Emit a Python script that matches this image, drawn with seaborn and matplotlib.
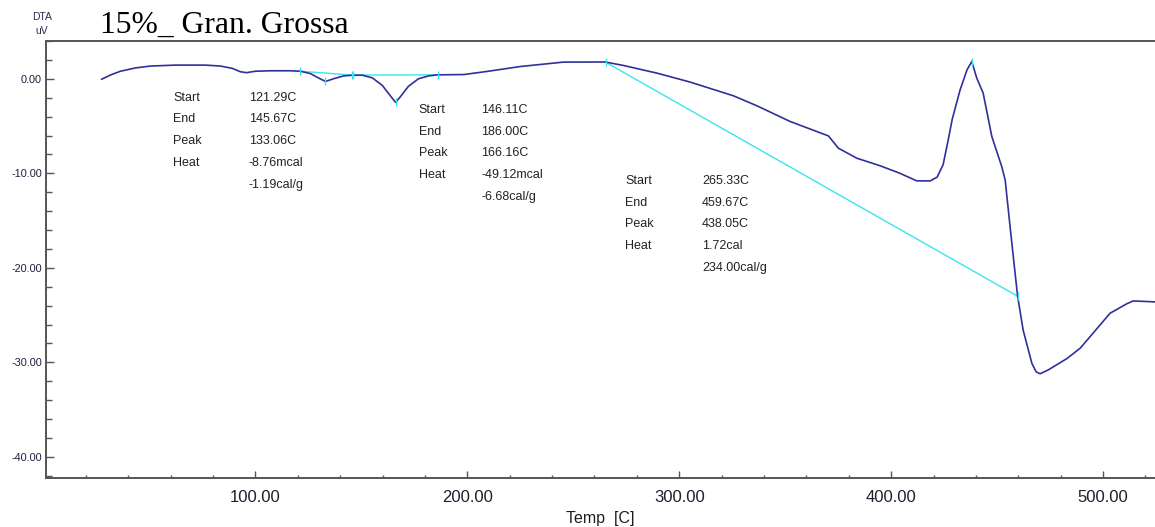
import numpy as np
import pandas as pd
import matplotlib
matplotlib.use("Agg")
import matplotlib.pyplot as plt
from matplotlib.ticker import MultipleLocator, FormatStrFormatter
import seaborn as sns

# DTA signal (uV) versus temperature (C)
temp = [27.4, 31.6, 36.3, 43.4, 50.5, 62.3, 76.4, 83.5, 89.2, 92.9, 95.8, 100.0,
        107.0, 116.5, 121.3, 126.0, 129.7, 133.06, 136.8, 141.5, 145.7, 150.5,
        155.2, 159.9, 163.7, 166.16, 168.4, 172.2, 176.9, 181.6, 185.8, 198.3,
        209.3, 225.0, 240.7, 245.4, 254.9, 265.1, 273.7, 289.5, 305.2,
        325.6, 336.7, 352.4, 370.4, 375.1, 383.8, 394.8, 404.2,
        412.1, 418.4, 421.7, 424.5, 426.9, 428.8, 432.5, 435.8, 438.05,
        440.4, 443.4, 447.5, 452.2, 453.8, 456.1, 458.5, 459.67, 462.3, 466.4,
        468.4, 470.3, 474.1, 482.9, 489.2, 495.3, 503.3, 511.2, 514.2, 524.5]
dta = [-0.05, 0.4, 0.8, 1.15, 1.35, 1.45, 1.45, 1.35, 1.1, 0.75, 0.65, 0.8,
       0.85, 0.85, 0.8, 0.55, 0.1, -0.28, 0.0, 0.3, 0.38, 0.38,
       0.1, -0.7, -1.8, -2.5, -1.9, -0.8, 0.0, 0.3, 0.42, 0.45,
       0.78, 1.3, 1.66, 1.77, 1.77, 1.78, 1.41, 0.6, -0.35,
       -1.8, -2.86, -4.52, -6.04, -7.34, -8.4, -9.2, -10.0,
       -10.8, -10.8, -10.4, -9.1, -6.5, -4.3, -1.2, 0.95, 1.83,
       0.07, -1.5, -6.1, -9.3, -10.7, -15.6, -20.6, -23.0, -26.6, -30.1,
       -31.0, -31.2, -30.8, -29.6, -28.5, -26.9, -24.8, -23.8, -23.5, -23.6]

# Peak analysis: baseline start/end (C, uV) and peak position
peak_start_t = [121.29, 146.11, 265.33]
peak_start_v = [0.8, 0.4, 1.75]
peak_end_t = [145.67, 186.00, 459.67]
peak_end_v = [0.4, 0.42, -23.0]
peak_top_t = [133.06, 166.16, 438.05]
peak_top_v = [-0.28, -2.5, 1.83]

peak_labels = ["Start", "End", "Peak", "Heat"]
peak_values = [
    ["121.29C", "145.67C", "133.06C", "-8.76mcal", "-1.19cal/g"],
    ["146.11C", "186.00C", "166.16C", "-49.12mcal", "-6.68cal/g"],
    ["265.33C", "459.67C", "438.05C", "1.72cal", "234.00cal/g"],
]
# Text anchor for each results block: label column x, value column x, first row y
block_anchor = [(61.3, 96.8, -2.0), (177.0, 206.7, -3.3), (274.5, 310.7, -10.8)]

x_ticks = [100, 200, 300, 400, 500]
y_ticks = [0, -10, -20, -30, -40]

sns.set_style("white")
plt.rcParams["font.family"] = ["Liberation Sans", "DejaVu Sans"]

fig = plt.figure(figsize=(11.55, 5.27), dpi=100)
ax = fig.add_axes([46 / 1155, 1 - 477.7 / 527, 1 - 46 / 1155, (477.7 - 41) / 527])

curve_color = "#30309a"
base_color = "#38e4f2"

df = pd.DataFrame({"Temp": temp, "DTA": dta})
sns.lineplot(data=df, x="Temp", y="DTA", sort=False, color=curve_color,
             linewidth=1.2, ax=ax, zorder=3)

for i in range(3):
    bl = pd.DataFrame({"Temp": [peak_start_t[i], peak_end_t[i]],
                       "DTA": [peak_start_v[i], peak_end_v[i]]})
    sns.lineplot(data=bl, x="Temp", y="DTA", sort=False, color=base_color,
                 linewidth=1.0, ax=ax, zorder=2)
    ax.plot([peak_start_t[i], peak_end_t[i], peak_top_t[i]],
            [peak_start_v[i], peak_end_v[i], peak_top_v[i]],
            linestyle="none", marker="|", markersize=6, color=base_color,
            markeredgewidth=1.0, zorder=4)

# Results blocks
row_step = 2.3
for (lx, vx, y0), vals in zip(block_anchor, peak_values):
    for r, lab in enumerate(peak_labels):
        ax.text(lx, y0 - r * row_step, lab, fontsize=9, color="#222222",
                ha="left", va="center")
    for r, val in enumerate(vals):
        ax.text(vx, y0 - r * row_step, val, fontsize=9, color="#222222",
                ha="left", va="center")

ax.set_xlim(1.2, 524.5)
ax.set_ylim(-42.2, 4.0)
ax.set_xticks(x_ticks)
ax.set_yticks(y_ticks)
ax.xaxis.set_major_formatter(FormatStrFormatter("%.2f"))
ax.yaxis.set_major_formatter(FormatStrFormatter("%.2f"))
ax.xaxis.set_minor_locator(MultipleLocator(20))
ax.yaxis.set_minor_locator(MultipleLocator(2))

spine_color = "#555555"
for side in ["left", "bottom", "top"]:
    ax.spines[side].set_color(spine_color)
    ax.spines[side].set_linewidth(1.4)
ax.spines["right"].set_visible(False)

ax.tick_params(axis="x", which="both", bottom=True, top=False)
ax.tick_params(axis="y", which="both", left=True, right=False)
ax.tick_params(axis="x", which="major", direction="in", length=5, width=1,
               color=spine_color, labelsize=12, labelcolor="#1e1e2e", pad=9)
ax.tick_params(axis="x", which="minor", direction="in", length=2.5, width=1,
               color=spine_color)
ax.tick_params(axis="y", which="major", direction="in", length=6, width=1,
               color=spine_color, labelsize=7.8, labelcolor="#1e1e3e", pad=3)
ax.tick_params(axis="y", which="minor", direction="in", length=4, width=1,
               color=spine_color)

ax.set_xlabel("Temp  [C]", fontsize=11.5, color="#1e1e1e", labelpad=4)
ax.set_ylabel("")

fig.text(42 / 1155, 1 - 17 / 527, "DTA", fontsize=7.5, color="#2a2a50",
         ha="center", va="center")
fig.text(42 / 1155, 1 - 30.5 / 527, "uV", fontsize=7.5, color="#2a2a50",
         ha="center", va="center")
fig.text(100 / 1155, 1 - 32.5 / 527, "15%_ Gran. Grossa", fontsize=22.8,
         family=["Liberation Serif", "DejaVu Serif"], color="black",
         ha="left", va="baseline")

fig.savefig("out.png", dpi=100)
